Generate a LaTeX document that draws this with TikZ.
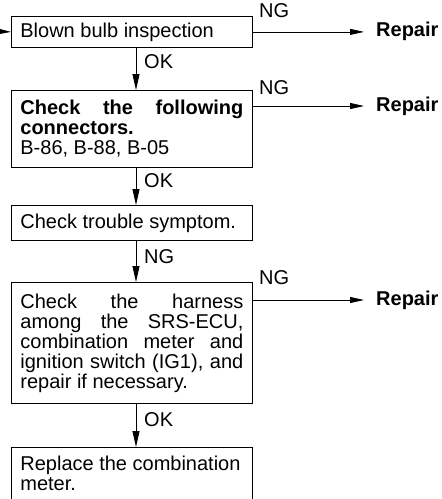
\documentclass[tikz,border=0pt]{standalone}
\usepackage{fontspec}
\setmainfont{Liberation Sans}
\usetikzlibrary{arrows.meta}
\newcommand{\dfs}{\fontsize{20pt}{20pt}\selectfont}
\begin{document}
\begin{tikzpicture}[x=1pt,y=-1pt,
  box/.style={draw, line width=0.8pt, minimum width=241pt, text width=223pt,
    inner xsep=9pt, inner ysep=0pt, align=justify, font=\dfs, anchor=north west},
  openbox/.style={box, draw=none},
  lbl/.style={font=\dfs, inner sep=0pt, anchor=west},
  rep/.style={font=\dfs\bfseries, inner sep=0pt, anchor=west},
  harr/.style={line width=0.8pt, -{Triangle[length=14pt,width=6pt]}},
  varr/.style={line width=0.8pt, -{Triangle[length=16pt,width=7pt]}},
]
\useasboundingbox (0,0) rectangle (442,499);
% guide coordinates
\coordinate (ax) at (136,0);
\coordinate (tip) at (364,0);
\coordinate (in) at (0,31.5);
% boxes
\node[box, minimum height=31pt] (b1) at (11,16) {Blown bulb inspection};
\node[box, minimum height=77pt] (b2) at (11,90)
  {\textbf{Check the following\linebreak connectors.}\\B-86, B-88, B-05};
\node[box, minimum height=35pt] (b3) at (11,205) {Check trouble symptom.};
\node[box, minimum height=121pt] (b4) at (11,282)
  {Check the harness\linebreak among the SRS-ECU,\linebreak combination meter and\linebreak ignition switch (IG1), and\linebreak repair if necessary.};
\node[openbox, minimum height=52pt] (b5) at (11,447)
  {Replace the combination\\meter.};
\draw[line width=0.8pt] (b5.south west) -- (b5.north west) -- (b5.north east) -- (b5.south east);
% side exits
\coordinate (a2) at (252,106);
\coordinate (a4) at (252,300);
\node[rep] (rp1) at (376,31) {Repair};
\node[rep] (rp2) at (376,106) {Repair};
\node[rep] (rp4) at (376,300) {Repair};
\node[lbl] (ng1) at (259,11) {NG};
\node[lbl] (ng2) at (259,88) {NG};
\node[lbl] (ng4) at (259,278) {NG};
\draw[harr] (in) -- (b1.west);
\draw[harr] (b1.east) -- (b1.east -| tip);
\draw[harr] (a2) -- (a2 -| tip);
\draw[harr] (a4) -- (a4 -| tip);
% vertical flow
\draw[varr] (b1.south -| ax) -- (b2.north -| ax);
\draw[varr] (b2.south -| ax) -- (b3.north -| ax);
\draw[varr] (b3.south -| ax) -- (b4.north -| ax);
\draw[varr] (b4.south -| ax) -- (b5.north -| ax);
\node[lbl] (ok1) at (144,62) {OK};
\node[lbl] (ok2) at (144,181) {OK};
\node[lbl] (ng3) at (144,257) {NG};
\node[lbl] (ok4) at (144,420) {OK};
\end{tikzpicture}
\end{document}
